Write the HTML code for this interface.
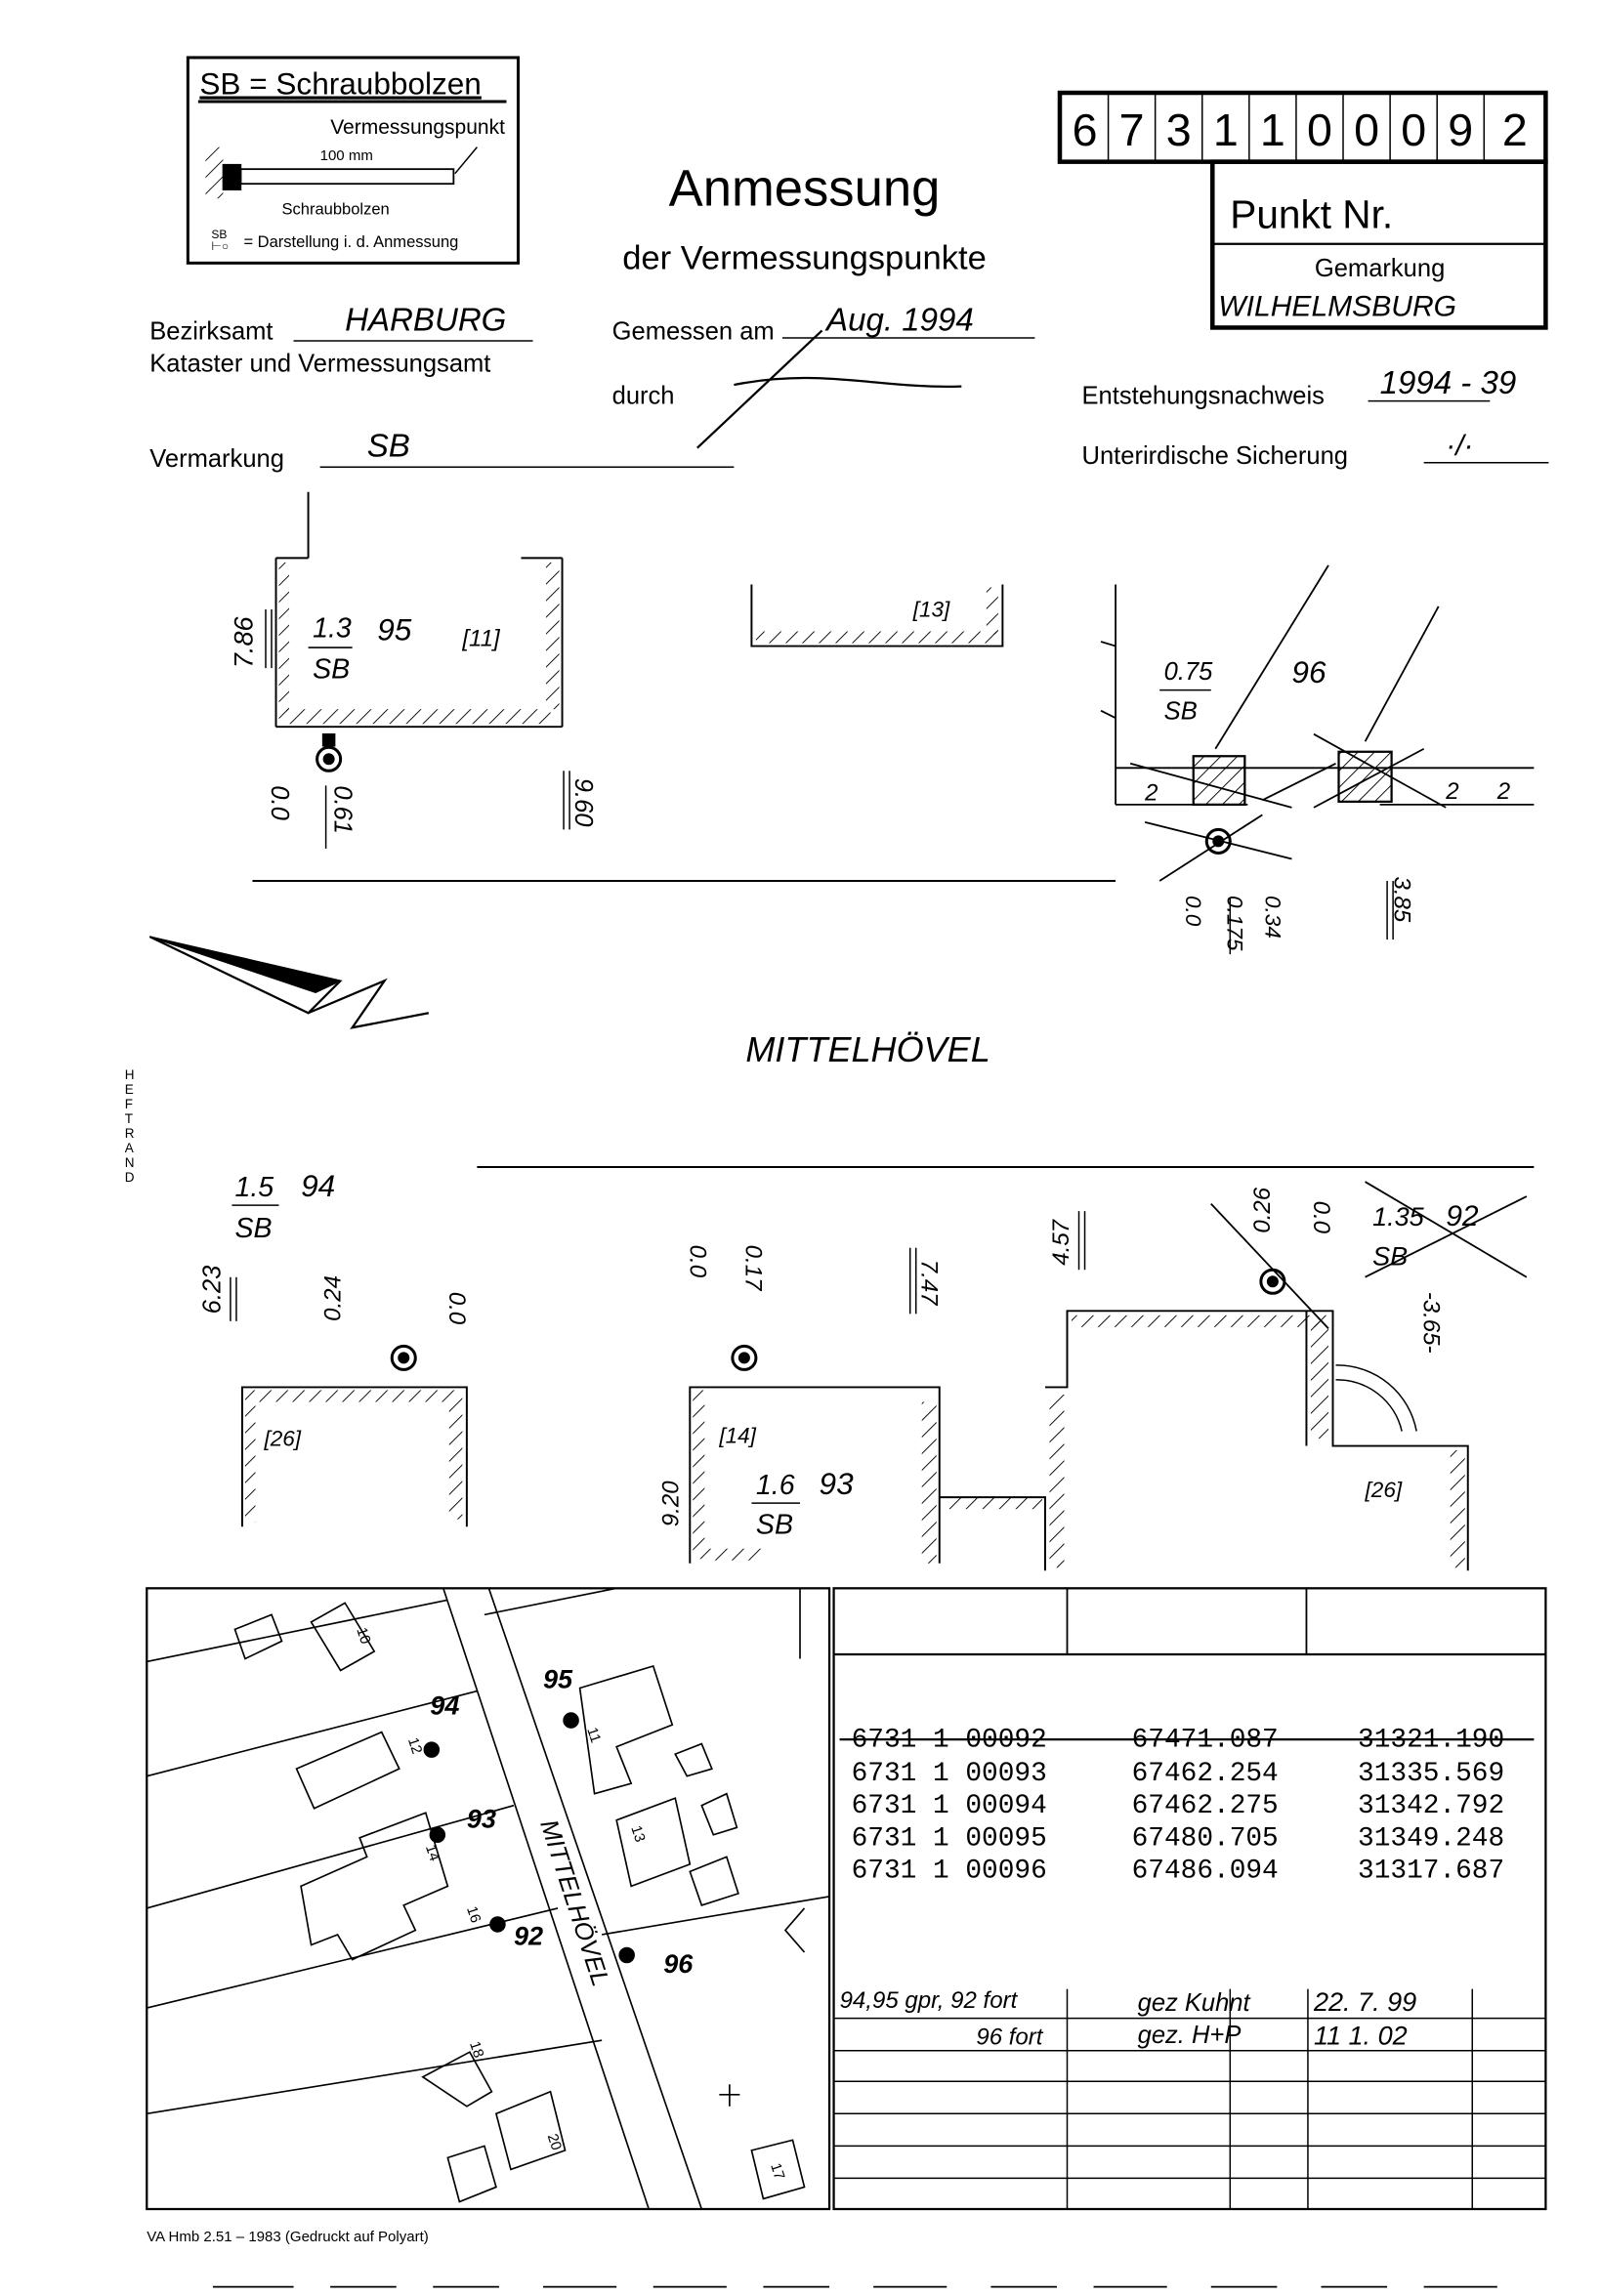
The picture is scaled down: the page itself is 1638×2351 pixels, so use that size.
<!DOCTYPE html>
<html><head><meta charset="utf-8"><style>
html,body{margin:0;padding:0;background:#fff}
svg{display:block}
text{font-family:"Liberation Sans",sans-serif;fill:#000}
.h text,text.h{font-style:italic}
.m text{font-family:"Liberation Mono",monospace}
</style></head><body>
<svg width="1638" height="2351" viewBox="0 0 1090 1564" xmlns="http://www.w3.org/2000/svg">
<defs>
<pattern id="hat" width="8" height="8" patternUnits="userSpaceOnUse" patternTransform="rotate(45)">
<line x1="0" y1="0" x2="0" y2="8" stroke="#000" stroke-width="1.2"/></pattern>
</defs>
<g fill="none" stroke="#000">
<rect x="128" y="39" width="225" height="140" stroke-width="2"/>
<line x1="135" y1="69" x2="345" y2="69" stroke-width="2"/>
<rect x="140" y="100" width="12" height="35" fill="url(#hat)" stroke="none"/>
<rect x="152" y="112" width="12" height="17" fill="#000"/>
<rect x="164" y="115" width="145" height="10" stroke-width="1.2"/>
<line x1="310" y1="118" x2="325" y2="100" stroke-width="1"/>
<rect x="722" y="63" width="331" height="47" stroke-width="3"/>
<g stroke-width="1">
<line x1="755" y1="63" x2="755" y2="110"/><line x1="787" y1="63" x2="787" y2="110"/><line x1="819" y1="63" x2="819" y2="110"/><line x1="851" y1="63" x2="851" y2="110"/><line x1="883" y1="63" x2="883" y2="110"/><line x1="915" y1="63" x2="915" y2="110"/><line x1="947" y1="63" x2="947" y2="110"/><line x1="979" y1="63" x2="979" y2="110"/><line x1="1011" y1="63" x2="1011" y2="110"/>
</g>
<rect x="826" y="110" width="227" height="113" stroke-width="3"/>
<line x1="826" y1="166" x2="1053" y2="166" stroke-width="1.5"/>
<g stroke-width="1">
<line x1="200" y1="232" x2="363" y2="232"/><line x1="533" y1="230" x2="705" y2="230"/>
<line x1="932" y1="273" x2="1015" y2="273"/><line x1="218" y1="318" x2="500" y2="318"/>
<line x1="970" y1="315" x2="1055" y2="315"/>
</g>
<path d="M560 225 L475 305 M500 262 C560 250 600 265 655 263" stroke-width="1.5"/>
<g stroke-width="1.3">
<line x1="210" y1="335" x2="210" y2="380"/><line x1="188" y1="380" x2="210" y2="380"/>
<line x1="188" y1="380" x2="188" y2="495"/><line x1="188" y1="495" x2="383" y2="495"/>
<line x1="383" y1="380" x2="383" y2="495"/><line x1="355" y1="380" x2="383" y2="380"/>
</g>
<rect x="190" y="383" width="7" height="110" fill="url(#hat)" stroke="none"/>
<rect x="195" y="483" width="180" height="10" fill="url(#hat)" stroke="none"/>
<rect x="372" y="383" width="9" height="100" fill="url(#hat)" stroke="none"/>
<circle cx="224" cy="517" r="8" stroke-width="2"/><circle cx="224" cy="517" r="3.5" fill="#000"/>
<rect x="220" y="500" width="8" height="8" fill="#000"/>
<line x1="222" y1="535" x2="222" y2="578" stroke-width="1"/><line x1="384" y1="525" x2="384" y2="565" stroke-width="1"/><line x1="388" y1="525" x2="388" y2="565" stroke-width="1"/>
<line x1="181" y1="415" x2="181" y2="455"/><line x1="185" y1="415" x2="185" y2="455"/>
<line x1="172" y1="600" x2="760" y2="600" stroke-width="1.3"/>
<path d="M512 398 V440 H683 V398" stroke-width="1.3"/>
<rect x="515" y="430" width="165" height="8" fill="url(#hat)" stroke="none"/>
<rect x="672" y="400" width="8" height="32" fill="url(#hat)" stroke="none"/>
<g stroke-width="1.2">
<line x1="760" y1="398" x2="760" y2="548"/><line x1="760" y1="548" x2="850" y2="548"/>
<line x1="760" y1="523" x2="1045" y2="523"/>
<line x1="828" y1="510" x2="905" y2="385"/><line x1="930" y1="505" x2="980" y2="413"/>
<line x1="750" y1="437" x2="760" y2="440"/><line x1="750" y1="484" x2="760" y2="489"/>
<line x1="770" y1="520" x2="880" y2="550"/><line x1="860" y1="545" x2="910" y2="520"/>
<line x1="895" y1="500" x2="985" y2="550"/><line x1="895" y1="550" x2="970" y2="510"/>
<line x1="780" y1="560" x2="880" y2="585"/><line x1="790" y1="600" x2="860" y2="555"/>
<line x1="940" y1="548" x2="1045" y2="548"/>
</g>
<rect x="813" y="515" width="35" height="33" fill="url(#hat)" stroke-width="1.5"/>
<rect x="912" y="512" width="36" height="34" fill="url(#hat)" stroke-width="1.5"/>
<circle cx="830" cy="573" r="8" stroke-width="2"/><circle cx="830" cy="573" r="3.5" fill="#000"/>
<line x1="838" y1="612" x2="838" y2="650"/><line x1="945" y1="600" x2="945" y2="640"/><line x1="949" y1="600" x2="949" y2="640"/>
<path d="M102 638 L232 668 L215 676 Z" fill="#000" stroke-width="1"/>
<path d="M102 638 L210 690 L232 668" stroke-width="1.5"/>
<path d="M210 690 L262 668 L240 700 L292 690" stroke-width="1.5"/>
<line x1="325" y1="795" x2="1045" y2="795" stroke-width="1.3"/>
<g stroke-width="1.3">
<path d="M165 1040 V945 H318 V1040"/>
<path d="M470 1065 V945 H640 V1065"/>
<path d="M640 1020 H712 V1070 M712 945 H727 V893 H908 V985 H1000 V1070 M890 893 V985"/>
</g>
<rect x="167" y="947" width="7" height="90" fill="url(#hat)" stroke="none"/>
<rect x="175" y="947" width="140" height="8" fill="url(#hat)" stroke="none"/>
<rect x="306" y="955" width="9" height="80" fill="url(#hat)" stroke="none"/>
<rect x="472" y="947" width="8" height="115" fill="url(#hat)" stroke="none"/>
<rect x="480" y="1055" width="40" height="8" fill="url(#hat)" stroke="none"/>
<rect x="628" y="955" width="10" height="110" fill="url(#hat)" stroke="none"/>
<rect x="645" y="1020" width="65" height="8" fill="url(#hat)" stroke="none"/>
<rect x="715" y="950" width="10" height="118" fill="url(#hat)" stroke="none"/>
<rect x="730" y="896" width="175" height="8" fill="url(#hat)" stroke="none"/>
<rect x="893" y="900" width="12" height="80" fill="url(#hat)" stroke="none"/>
<rect x="988" y="988" width="10" height="80" fill="url(#hat)" stroke="none"/>
<path d="M910 930 A55 55 0 0 1 965 975 M910 940 A45 45 0 0 1 955 975" stroke-width="1"/>
<circle cx="275" cy="925" r="8" stroke-width="2"/><circle cx="275" cy="925" r="3.5" fill="#000"/>
<circle cx="507" cy="925" r="8" stroke-width="2"/><circle cx="507" cy="925" r="3.5" fill="#000"/>
<circle cx="867" cy="873" r="8" stroke-width="2"/><circle cx="867" cy="873" r="3.5" fill="#000"/>
<line x1="825" y1="820" x2="905" y2="905" stroke-width="1.2"/><line x1="930" y1="805" x2="1040" y2="870" stroke-width="1.2"/><line x1="930" y1="870" x2="1040" y2="815" stroke-width="1.2"/>
<line x1="157" y1="870" x2="157" y2="900"/><line x1="161" y1="870" x2="161" y2="900"/>
<line x1="620" y1="850" x2="620" y2="895"/><line x1="624" y1="850" x2="624" y2="895"/>
<line x1="735" y1="825" x2="735" y2="865"/><line x1="739" y1="825" x2="739" y2="865"/>
<rect x="100" y="1082" width="465" height="423" stroke-width="1.5"/>
<g stroke-width="1.1">
<line x1="302" y1="1082" x2="442" y2="1505"/><line x1="333" y1="1082" x2="478" y2="1505"/>
<line x1="100" y1="1132" x2="305" y2="1090"/><line x1="100" y1="1210" x2="325" y2="1152"/>
<line x1="100" y1="1300" x2="350" y2="1230"/><line x1="100" y1="1368" x2="380" y2="1300"/>
<line x1="100" y1="1440" x2="410" y2="1390"/><line x1="330" y1="1100" x2="420" y2="1082"/>
<line x1="410" y1="1318" x2="565" y2="1292"/><line x1="545" y1="1082" x2="545" y2="1130"/>
<path d="M212 1105 L235 1092 L255 1125 L232 1138 Z"/><path d="M160 1110 L185 1100 L192 1118 L167 1130Z"/>
<path d="M202 1205 L260 1180 L272 1205 L214 1232 Z"/>
<path d="M205 1285 L250 1265 L245 1252 L290 1235 L305 1285 L275 1298 L283 1315 L240 1335 L230 1318 L212 1325 Z"/>
<path d="M395 1150 L445 1135 L458 1175 L420 1190 L430 1215 L405 1222 Z"/>
<path d="M420 1240 L460 1225 L470 1270 L430 1285 Z"/><path d="M478 1230 L495 1222 L502 1245 L486 1250Z"/>
<path d="M460 1195 L478 1188 L485 1205 L468 1210Z"/><path d="M470 1275 L495 1265 L503 1290 L478 1298Z"/>
<path d="M288 1415 L320 1398 L335 1425 L318 1435 Z"/><path d="M338 1440 L375 1425 L385 1465 L348 1478Z"/>
<path d="M305 1470 L330 1462 L338 1490 L313 1500Z"/><path d="M512 1465 L540 1458 L548 1490 L520 1498Z"/>
<path d="M548 1300 L535 1315 L548 1330"/><line x1="497" y1="1420" x2="497" y2="1435"/><line x1="490" y1="1427" x2="504" y2="1427"/>
</g>
<circle cx="294" cy="1192" r="5" fill="#000"/><circle cx="389" cy="1172" r="5" fill="#000"/>
<circle cx="298" cy="1250" r="5" fill="#000"/><circle cx="339" cy="1311" r="5" fill="#000"/><circle cx="427" cy="1332" r="5" fill="#000"/>
<rect x="568" y="1082" width="485" height="423" stroke-width="1.5"/>
<line x1="568" y1="1127" x2="1053" y2="1127" stroke-width="1.5"/>
<line x1="727" y1="1082" x2="727" y2="1127" stroke-width="1.2"/><line x1="890" y1="1082" x2="890" y2="1127" stroke-width="1.2"/>
<line x1="572" y1="1185" x2="1045" y2="1185" stroke-width="1.5"/>
<g stroke-width="1">
<line x1="568" y1="1375" x2="1053" y2="1375"/><line x1="568" y1="1397" x2="1053" y2="1397"/>
<line x1="568" y1="1418" x2="1053" y2="1418"/><line x1="568" y1="1440" x2="1053" y2="1440"/>
<line x1="568" y1="1462" x2="1053" y2="1462"/><line x1="568" y1="1484" x2="1053" y2="1484"/>
<line x1="727" y1="1355" x2="727" y2="1505"/><line x1="838" y1="1355" x2="838" y2="1505"/>
<line x1="891" y1="1355" x2="891" y2="1505"/><line x1="1003" y1="1355" x2="1003" y2="1505"/>
</g>
<g stroke-width="1.2"><line x1="145" y1="1558" x2="200" y2="1558"/><line x1="225" y1="1558" x2="270" y2="1558"/><line x1="295" y1="1558" x2="340" y2="1558"/><line x1="370" y1="1558" x2="420" y2="1558"/><line x1="445" y1="1558" x2="495" y2="1558"/><line x1="520" y1="1558" x2="565" y2="1558"/><line x1="595" y1="1558" x2="645" y2="1558"/><line x1="675" y1="1558" x2="720" y2="1558"/><line x1="745" y1="1558" x2="795" y2="1558"/><line x1="825" y1="1558" x2="870" y2="1558"/><line x1="900" y1="1558" x2="945" y2="1558"/><line x1="970" y1="1558" x2="1020" y2="1558"/></g>
</g>
<text x="136" y="64" font-size="21" text-decoration="underline">SB = Schraubbolzen</text>
<text x="344" y="91" font-size="14" text-anchor="end">Vermessungspunkt</text>
<text x="218" y="109" font-size="10">100 mm</text>
<text x="192" y="146" font-size="11">Schraubbolzen</text>
<text x="144" y="162" font-size="8">SB</text>
<text x="144" y="170" font-size="8">⊢○</text>
<text x="166" y="168" font-size="11">= Darstellung i. d. Anmessung</text>
<g font-size="31" text-anchor="middle">
<text x="739" y="99">6</text><text x="771" y="99">7</text><text x="803" y="99">3</text><text x="835" y="99">1</text><text x="867" y="99">1</text><text x="899" y="99">0</text><text x="931" y="99">0</text><text x="963" y="99">0</text><text x="995" y="99">9</text><text x="1032" y="99">2</text>
</g>
<text x="838" y="155" font-size="27">Punkt Nr.</text>
<text x="940" y="188" font-size="17" text-anchor="middle">Gemarkung</text>
<text x="830" y="215" font-size="20" class="h">WILHELMSBURG</text>
<text x="548" y="140" font-size="35" text-anchor="middle">Anmessung</text>
<text x="548" y="183" font-size="23" text-anchor="middle">der Vermessungspunkte</text>
<text x="102" y="231" font-size="17">Bezirksamt</text>
<text x="102" y="253" font-size="17">Kataster und Vermessungsamt</text>
<text x="235" y="225" font-size="22" class="h">HARBURG</text>
<text x="417" y="231" font-size="17">Gemessen am</text>
<text x="563" y="225" font-size="22" class="h">Aug. 1994</text>
<text x="417" y="275" font-size="17">durch</text>
<text x="737" y="275" font-size="17">Entstehungsnachweis</text>
<text x="940" y="268" font-size="22" class="h">1994 - 39</text>
<text x="102" y="318" font-size="17">Vermarkung</text>
<text x="250" y="311" font-size="22" class="h">SB</text>
<text x="737" y="316" font-size="17">Unterirdische Sicherung</text>
<text x="985" y="310" font-size="20" class="h">·/·</text>
<g class="h">
<text x="213" y="434" font-size="19">1.3</text><text x="213" y="462" font-size="19">SB</text><line x1="210" y1="441" x2="240" y2="441" stroke="#000"/>
<text x="257" y="436" font-size="21">95</text><text x="315" y="440" font-size="16">[11]</text>
<text x="172" y="455" font-size="18" transform="rotate(-90 172 455)">7.86</text>
<text x="185" y="535" font-size="17" transform="rotate(90 185 535)">0.0</text>
<text x="228" y="535" font-size="17" transform="rotate(90 228 535)">0.61</text>
<text x="392" y="530" font-size="17" transform="rotate(90 392 530)">9.60</text>
<text x="622" y="420" font-size="15">[13]</text>
<text x="793" y="463" font-size="17">0.75</text><text x="793" y="490" font-size="17">SB</text><line x1="790" y1="470" x2="825" y2="470" stroke="#000"/>
<text x="880" y="465" font-size="21">96</text>
<text x="780" y="545" font-size="16">2</text><text x="985" y="544" font-size="16">2</text><text x="1020" y="544" font-size="16">2</text>
<text x="808" y="610" font-size="15" transform="rotate(90 808 610)">0.0</text>
<text x="836" y="610" font-size="15" transform="rotate(90 836 610)">0.175</text>
<text x="862" y="610" font-size="15" transform="rotate(90 862 610)">0.34</text>
<text x="950" y="597" font-size="16" transform="rotate(90 950 597)">3.85</text>
<text x="508" y="723" font-size="24">MITTELHÖVEL</text>
<text x="160" y="815" font-size="19">1.5</text><text x="205" y="815" font-size="21">94</text><line x1="158" y1="821" x2="190" y2="821" stroke="#000"/><text x="160" y="843" font-size="19">SB</text>
<text x="150" y="895" font-size="17" transform="rotate(-90 150 895)">6.23</text>
<text x="262" y="870" font-size="16" transform="rotate(-90 262 900)">0.24</text>
<text x="306" y="880" font-size="16" transform="rotate(90 306 880)">0.0</text>
<text x="470" y="848" font-size="16" transform="rotate(90 470 848)">0.0</text>
<text x="508" y="848" font-size="16" transform="rotate(90 508 848)">0.17</text>
<text x="628" y="858" font-size="16" transform="rotate(90 628 858)">7.47</text>
<text x="728" y="862" font-size="16" transform="rotate(-90 728 862)">4.57</text>
<text x="865" y="840" font-size="16" transform="rotate(-90 865 840)">0.26</text>
<text x="895" y="818" font-size="16" transform="rotate(90 895 818)">0.0</text>
<text x="935" y="835" font-size="18">1.35</text><text x="985" y="835" font-size="20">92</text><text x="935" y="862" font-size="18">SB</text>
<text x="970" y="880" font-size="16" transform="rotate(90 970 880)">-3.65-</text>
<text x="180" y="985" font-size="15">[26]</text>
<text x="490" y="983" font-size="15">[14]</text>
<text x="515" y="1018" font-size="19">1.6</text><text x="558" y="1018" font-size="21">93</text><line x1="512" y1="1024" x2="545" y2="1024" stroke="#000"/><text x="515" y="1045" font-size="19">SB</text>
<text x="462" y="1040" font-size="16" transform="rotate(-90 462 1040)">9.20</text>
<text x="930" y="1020" font-size="15">[26]</text>
<text x="293" y="1168" font-size="18" font-weight="bold">94</text>
<text x="370" y="1150" font-size="18" font-weight="bold">95</text>
<text x="318" y="1245" font-size="18" font-weight="bold">93</text>
<text x="350" y="1325" font-size="18" font-weight="bold">92</text>
<text x="452" y="1344" font-size="18" font-weight="bold">96</text>
<text x="368" y="1242" font-size="17" transform="rotate(72 368 1242)">MITTELHÖVEL</text>
<text x="572" y="1368" font-size="16">94,95 gpr, 92 fort</text>
<text x="665" y="1393" font-size="16">96 fort</text>
<text x="775" y="1370" font-size="17">gez Kuhnt</text>
<text x="775" y="1392" font-size="17">gez. H+P</text>
<text x="895" y="1370" font-size="18">22. 7. 99</text>
<text x="895" y="1393" font-size="18">11 1. 02</text>
</g>
<g font-size="10"><text x="243" y="1110" transform="rotate(72 243 1110)">10</text><text x="278" y="1185" transform="rotate(72 278 1185)">12</text><text x="290" y="1258" transform="rotate(72 290 1258)">14</text><text x="318" y="1300" transform="rotate(72 318 1300)">16</text><text x="400" y="1178" transform="rotate(72 400 1178)">11</text><text x="430" y="1245" transform="rotate(72 430 1245)">13</text><text x="320" y="1392" transform="rotate(72 320 1392)">18</text><text x="373" y="1455" transform="rotate(72 373 1455)">20</text><text x="525" y="1475" transform="rotate(72 525 1475)">17</text></g>
<g class="m" font-size="18.5">
<text x="580" y="1190">6731 1 00092</text><text x="771" y="1190">67471.087</text><text x="925" y="1190">31321.190</text>
<text x="580" y="1213">6731 1 00093</text><text x="771" y="1213">67462.254</text><text x="925" y="1213">31335.569</text>
<text x="580" y="1235">6731 1 00094</text><text x="771" y="1235">67462.275</text><text x="925" y="1235">31342.792</text>
<text x="580" y="1257">6731 1 00095</text><text x="771" y="1257">67480.705</text><text x="925" y="1257">31349.248</text>
<text x="580" y="1279">6731 1 00096</text><text x="771" y="1279">67486.094</text><text x="925" y="1279">31317.687</text>
</g>
<g font-size="9"><text x="85" y="735">H</text><text x="85" y="745">E</text><text x="85" y="755">F</text><text x="85" y="765">T</text><text x="85" y="775">R</text><text x="85" y="785">A</text><text x="85" y="795">N</text><text x="85" y="805">D</text></g>
<text x="100" y="1527" font-size="10">VA Hmb 2.51 – 1983 (Gedruckt auf Polyart)</text>
</svg>
</body></html>
